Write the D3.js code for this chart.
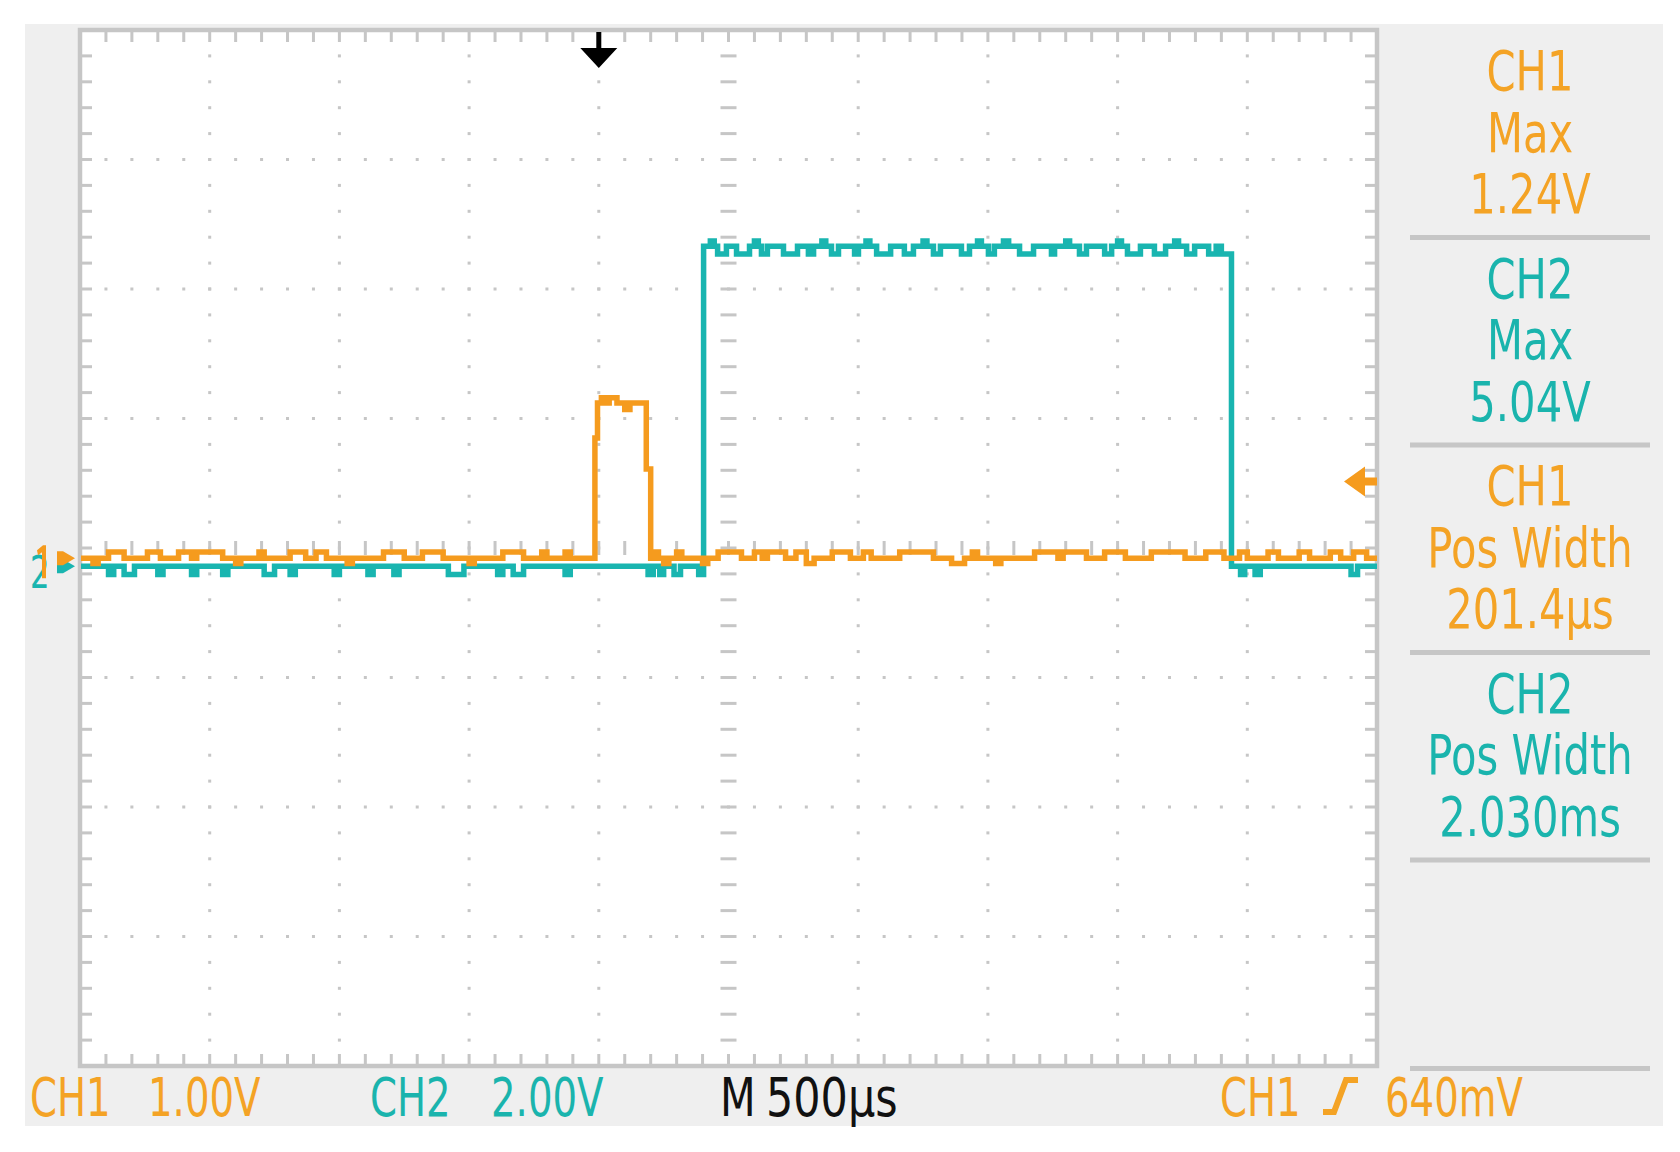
<!DOCTYPE html>
<html><head><meta charset="utf-8">
<script src="https://cdn.jsdelivr.net/npm/d3@7"></script>
<style>html,body{margin:0;padding:0;background:#fff;} svg{display:block;}</style>
</head><body>
<svg id="c" width="1680" height="1152"></svg>
<script>
const timeDomainMs = [-2.0, 3.0];          // 10 div x 500 µs, trigger at 4th division
const timePerDivMs = 0.5;
const divisionsX = 10, divisionsY = 8, minorPerDiv = 5;
const ch1VoltsPerDiv = 1.00;
const ch2VoltsPerDiv = 2.00;
const ch1GroundDiv = -0.08;                // ground marker offsets (divisions)
const ch2GroundDiv = -0.14;
const triggerLevelV = 0.64;
const triggerTimeMs = 0.0;

// CH1 trace: [time ms, volts]
const ch1Samples = [
  [-2.00,0],[-1.95,-0.04],[-1.93,0],[-1.89,0.05],[-1.83,0],[-1.74,0.05],[-1.69,0],
  [-1.62,0.05],[-1.57,0],[-1.55,0.05],[-1.45,0],[-1.40,-0.04],[-1.38,0],[-1.31,0.05],[-1.29,0],
  [-1.19,0.05],[-1.13,0],[-1.09,0.05],[-1.05,0],[-0.97,-0.04],[-0.95,0],[-0.83,0.05],[-0.75,0],
  [-0.68,0.05],[-0.60,0],[-0.50,-0.04],[-0.48,0],[-0.37,0.05],[-0.29,0],[-0.22,0.05],[-0.20,0],
  [-0.13,0.05],[-0.11,0],
  [-0.015,0.93],[-0.005,1.20],[0.01,1.24],[0.025,1.20],[0.04,1.24],[0.07,1.20],[0.10,1.15],
  [0.12,1.20],[0.183,0.69],[0.20,0],
  [0.21,0.05],[0.23,0],[0.25,-0.04],[0.27,0],[0.30,0.05],[0.32,0],[0.40,-0.04],[0.42,0],
  [0.46,0.05],[0.55,0],[0.60,0.05],[0.63,0],[0.65,0.05],[0.72,0],[0.76,0.05],[0.80,-0.04],[0.83,0],
  [0.90,0.05],[0.97,0],[1.02,0.05],[1.05,0],[1.16,0.05],[1.29,0],[1.36,-0.04],[1.41,0],
  [1.44,0.05],[1.46,0],[1.53,-0.04],[1.55,0],[1.68,0.05],[1.77,0],[1.79,0.05],[1.88,0],
  [1.95,0.05],[2.03,0],[2.13,0.05],[2.26,0],[2.34,0.05],[2.41,0],[2.47,0.05],[2.50,0],
  [2.58,0.05],[2.62,0],[2.70,0.05],[2.74,0],[2.82,0.05],[2.86,0],[2.91,0.05],[2.96,0],[3.00,0]
];

// CH2 trace: [time ms, volts]
const ch2Samples = [
  [-2.00,0],[-1.89,-0.13],[-1.87,0],[-1.83,-0.13],[-1.79,0],[-1.70,-0.13],[-1.68,0],
  [-1.57,-0.13],[-1.55,0],[-1.45,-0.13],[-1.43,0],[-1.29,-0.13],[-1.25,0],[-1.19,-0.13],[-1.17,0],
  [-1.02,-0.13],[-1.00,0],[-0.89,-0.13],[-0.87,0],[-0.79,-0.13],[-0.77,0],[-0.58,-0.13],[-0.52,0],
  [-0.39,-0.13],[-0.37,0],[-0.33,-0.13],[-0.29,0],[-0.13,-0.13],[-0.11,0],
  [0.19,-0.13],[0.21,0],[0.235,-0.13],[0.25,0],[0.29,-0.13],[0.315,0],[0.385,-0.13],
  [0.404,4.94],[0.43,5.02],[0.445,4.94],[0.458,4.82],[0.492,4.94],[0.531,4.82],[0.581,4.94],[0.60,5.02],[0.615,4.94],[0.627,4.82],[0.650,4.94],
  [0.712,4.82],[0.766,4.94],[0.808,4.82],[0.828,4.94],[0.86,5.02],[0.875,4.94],[0.897,4.82],[0.924,4.94],[0.986,4.82],
  [1.001,4.94],[1.03,5.02],[1.045,4.94],[1.071,4.82],[1.125,4.94],[1.178,4.82],[1.213,4.94],[1.25,5.02],[1.265,4.94],[1.290,4.82],[1.317,4.94],
  [1.398,4.82],[1.429,4.94],[1.46,5.02],[1.475,4.94],[1.502,4.82],[1.525,4.94],[1.56,5.02],[1.58,4.94],[1.622,4.82],[1.676,4.94],[1.745,4.82],
  [1.757,4.94],[1.80,5.02],[1.815,4.94],[1.853,4.82],[1.880,4.94],[1.950,4.82],[1.977,4.94],[2.00,5.02],[2.015,4.94],[2.038,4.82],[2.088,4.94],
  [2.142,4.82],[2.185,4.94],[2.22,5.02],[2.235,4.94],[2.266,4.82],[2.297,4.94],[2.351,4.82],[2.380,4.94],[2.400,4.82],
  [2.439,0],[2.474,-0.13],[2.49,0],[2.53,-0.13],[2.55,0],[2.90,-0.13],[2.925,0],[3.00,0]
];

// measurement readouts
const measChannels = ["CH1", "CH2", "CH1", "CH2"];
const measNames    = ["Max", "Max", "Pos Width", "Pos Width"];
const measValues   = ["1.24V", "5.04V", "201.4µs", "2.030ms"];

// bottom status line
const statusLabels = ["CH1", "1.00V", "CH2", "2.00V", "M", "500µs", "CH1", "640mV"];
const statusChannel = ["ch1", "ch1", "ch2", "ch2", "time", "time", "ch1", "ch1"];

// ---------------- drawing ----------------
const ORANGE = "#f59b1e", ORANGE_TXT = "#f4a325", CYAN = "#19b5b0", CYAN_TXT = "#1ab4ad";
const GRID = "#c6c6c6", PANEL = "#efefef";
const colorOf = {ch1: ORANGE_TXT, ch2: CYAN_TXT, time: "#111"};

const svg = d3.select("#c");
const L = 80, R = 1377, T = 30, B = 1066;
const x = d3.scaleLinear().domain(timeDomainMs).range([L, R]);
const yDiv = d3.scaleLinear().domain([-divisionsY / 2, divisionsY / 2]).range([B, T]);
const y1 = v => yDiv(ch1GroundDiv + v / ch1VoltsPerDiv);
const y2 = v => yDiv(ch2GroundDiv + v / ch2VoltsPerDiv);

svg.append("rect").attr("x", 25).attr("y", 24).attr("width", 1638).attr("height", 1102).attr("fill", PANEL);
svg.append("rect").attr("x", L).attr("y", T).attr("width", R - L).attr("height", B - T).attr("fill", "#fff");

const majorT = d3.range(divisionsX + 1).map(i => timeDomainMs[0] + i * timePerDivMs);
const minorT = d3.range(divisionsX * minorPerDiv + 1).map(i => timeDomainMs[0] + i * timePerDivMs / minorPerDiv);
const majorY = d3.range(divisionsY + 1).map(i => -divisionsY / 2 + i);
const minorY = d3.range(divisionsY * minorPerDiv + 1).map(i => -divisionsY / 2 + i / minorPerDiv);
const centerT = timeDomainMs[0] + divisionsX / 2 * timePerDivMs;

const g = svg.append("g");
// dotted grid lines
const dots = [];
majorT.slice(1, -1).forEach(t => { if (Math.abs(t - centerT) > 1e-9) minorY.slice(1, -1).forEach(d => dots.push([x(t), yDiv(d)])); });
majorY.slice(1, -1).forEach(d => { if (d !== 0) minorT.slice(1, -1).forEach(t => dots.push([x(t), yDiv(d)])); });
g.selectAll("rect.dot").data(dots).join("rect").attr("class", "dot")
  .attr("x", d => d[0] - 1.5).attr("y", d => d[1] - 1.5).attr("width", 3).attr("height", 3).attr("fill", GRID);
// center cross ticks
g.selectAll("rect.cv").data(minorY.slice(1, -1)).join("rect").attr("class", "cv")
  .attr("x", x(centerT) - 8).attr("y", d => yDiv(d) - 1.5).attr("width", 16).attr("height", 3).attr("fill", GRID);
g.selectAll("rect.ch").data(minorT.slice(1, -1)).join("rect").attr("class", "ch")
  .attr("x", t => x(t) - 1.5).attr("y", yDiv(0) - 7).attr("width", 3).attr("height", 14).attr("fill", GRID);
// border ticks
g.selectAll("rect.bt").data(minorT.slice(1, -1)).join("rect").attr("class", "bt")
  .attr("x", t => x(t) - 1.5).attr("y", T).attr("width", 3).attr("height", 12).attr("fill", GRID);
g.selectAll("rect.bb").data(minorT.slice(1, -1)).join("rect").attr("class", "bb")
  .attr("x", t => x(t) - 1.5).attr("y", B - 12).attr("width", 3).attr("height", 12).attr("fill", GRID);
g.selectAll("rect.bl").data(minorY.slice(1, -1)).join("rect").attr("class", "bl")
  .attr("x", L).attr("y", d => yDiv(d) - 1.5).attr("width", 12).attr("height", 3).attr("fill", GRID);
g.selectAll("rect.br").data(minorY.slice(1, -1)).join("rect").attr("class", "br")
  .attr("x", R - 12).attr("y", d => yDiv(d) - 1.5).attr("width", 12).attr("height", 3).attr("fill", GRID);
// border
svg.append("rect").attr("x", L).attr("y", T).attr("width", R - L).attr("height", B - T)
  .attr("fill", "none").attr("stroke", GRID).attr("stroke-width", 4.5);

// traces
svg.append("clipPath").attr("id", "clip").append("rect").attr("x", L + 1).attr("y", T).attr("width", R - L - 1).attr("height", B - T);
const line1 = d3.line().x(d => x(d[0])).y(d => y1(d[1])).curve(d3.curveStepAfter);
const line2 = d3.line().x(d => x(d[0])).y(d => y2(d[1])).curve(d3.curveStepAfter);
const tr = svg.append("g").attr("clip-path", "url(#clip)");
tr.append("path").attr("d", line2(ch2Samples)).attr("fill", "none").attr("stroke", CYAN).attr("stroke-width", 5.5);
tr.append("path").attr("d", line1(ch1Samples)).attr("fill", "none").attr("stroke", ORANGE).attr("stroke-width", 5.5);

// trigger position marker (top)
const tx = x(triggerTimeMs);
svg.append("path").attr("fill", "#000")
  .attr("d", `M${tx - 2.5},${T + 2} h5 v16 h16 l-18.5,20 l-18.5,-20 h16 z`);
// trigger level marker (right)
const ty = y1(triggerLevelV) + 6;
svg.append("path").attr("fill", ORANGE)
  .attr("d", `M${R - 33},${ty} l21,-15 v11 h12 v8 h-12 v11 z`);

// ground markers (left)
svg.append("text").attr("x", 0).attr("y", 0).attr("font-family", "DejaVu Sans").attr("font-size", 44)
  .attr("fill", CYAN).attr("transform", "translate(30,588) scale(0.7,1)").text("2");
const gy1 = y1(0), gy2 = y2(0);
svg.append("path").attr("fill", ORANGE).attr("d", `M37,${gy1 - 8} l6,-5 h3 v33 h-4 v-26 l-4,3 z`);
svg.append("path").attr("fill", CYAN).attr("d", `M57,${gy2 - 7} h6 l12,7 l-12,7 h-6 z`);
svg.append("path").attr("fill", ORANGE).attr("d", `M57,${gy1 - 7} h6 l12,7 l-12,7 h-6 z`);

// readout panel
const FONT = "DejaVu Sans";
const cx = 1530, blockH = 207.5;
const sep = svg.append("g");
d3.range(measChannels.length).forEach(i => {
  const top = 30 + i * blockH;
  const col = measChannels[i] === "CH1" ? ORANGE_TXT : CYAN_TXT;
  [measChannels[i], measNames[i], measValues[i]].forEach((s, k) => {
    const by = top + 60 + k * 61.5;
    svg.append("text").attr("x", 0).attr("y", 0).attr("text-anchor", "middle")
      .attr("font-family", FONT).attr("font-size", 56).attr("fill", col)
      .attr("transform", `translate(${cx},${by}) scale(0.745,1)`).text(s);
  });
  sep.append("rect").attr("x", 1410).attr("y", top + 205).attr("width", 240).attr("height", 5).attr("fill", GRID);
});
sep.append("rect").attr("x", 1410).attr("y", B).attr("width", 240).attr("height", 5).attr("fill", GRID);

// bottom status
const statusX = [30, 148, 370, 491, 720, 766, 1220, 1385];
const statusSx = [0.73, 0.73, 0.73, 0.73, 0.78, 0.81, 0.73, 0.73];
statusLabels.forEach((s, i) => {
  svg.append("text").attr("x", 0).attr("y", 0).attr("font-family", FONT).attr("font-size", 53)
    .attr("fill", colorOf[statusChannel[i]])
    .attr("transform", `translate(${statusX[i]},1116) scale(${statusSx[i]},1)`).text(s);
});
// trigger slope symbol
svg.append("path").attr("fill", "none").attr("stroke", ORANGE_TXT).attr("stroke-width", 6)
  .attr("d", "M1323,1112 H1334 L1346,1080 H1358");
</script>
</body></html>
